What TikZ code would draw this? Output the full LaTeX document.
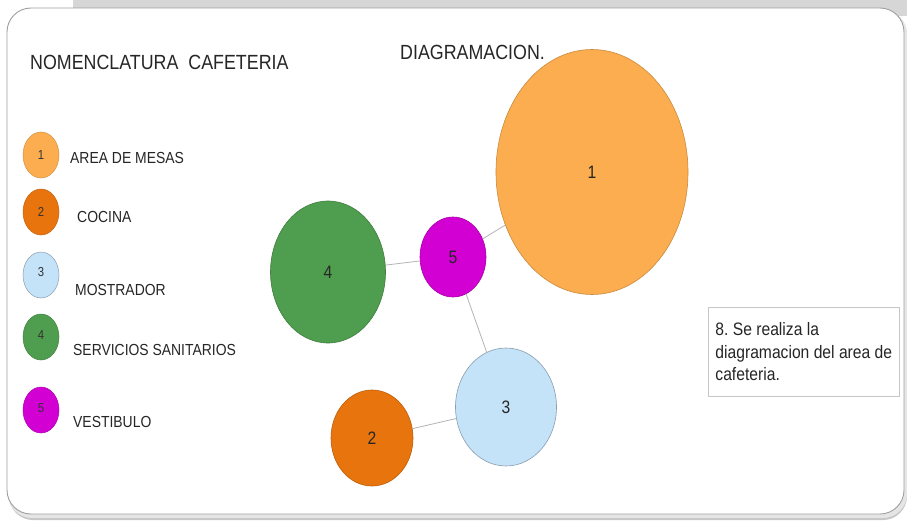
\documentclass[tikz,border=0pt]{standalone}
\usepackage{fontspec}
\setmainfont{Liberation Sans}[FakeStretch=0.87]
\usetikzlibrary{shapes.geometric}
\definecolor{cOne}{HTML}{FBAD4F}
\definecolor{cTwo}{HTML}{E8740E}
\definecolor{cThree}{HTML}{C4E2F8}
\definecolor{cFour}{HTML}{4F9D4F}
\definecolor{cFive}{HTML}{D200D2}
\definecolor{bandgray}{HTML}{D6D6D6}
\definecolor{linegray}{HTML}{B4B4B4}
\tikzset{
  room/.style={ellipse, inner sep=0pt, line width=0.6pt, font=\fontsize{18}{20}\selectfont, text=black!85},
  legdot/.style={ellipse, inner sep=0pt, minimum width=36pt, minimum height=46pt, line width=0.5pt, font=\fontsize{13}{14}\selectfont, text=black!80},
  leglabel/.style={anchor=west, inner sep=0pt, font=\fontsize{16}{19}\selectfont, text=black!85},
  link/.style={draw=linegray, line width=0.8pt},
  title/.style={anchor=west, inner sep=0pt, font=\fontsize{20.5}{24}\selectfont, text=black!85}
}
\frenchspacing
\begin{document}
\begin{tikzpicture}[x=1pt,y=-1pt]
\useasboundingbox (0,0) rectangle (907,522);
\fill[white] (0,0) rectangle (907,522);
% background band and panel
\fill[bandgray] (73,0) rectangle (907,16);
\fill[gray!45, rounded corners=24pt] (9,11) rectangle (907,520);
\fill[gray!20, rounded corners=24pt] (8,10) rectangle (907,518);
\filldraw[fill=white, draw=gray!75, line width=0.9pt, rounded corners=24pt] (7,8) rectangle (904,514);
% titles
\node[title] (t1) at (30,62) {NOMENCLATURA\ \ CAFETERIA};
\node[title] (t2) at (400,52) {DIAGRAMACION.};
% legend
\node[legdot, fill=cOne, draw=cOne!85!black] (l1) at (41,155) {1};
\node[legdot, fill=cTwo, draw=cTwo!85!black] (l2) at (41,212) {2};
\node[legdot, fill=cThree, draw=cThree!70!black] (l3) at (41,275) {\raisebox{6pt}{3}};
\node[legdot, fill=cFour, draw=cFour!85!black] (l4) at (41,337) {\raisebox{3pt}{4}};
\node[legdot, fill=cFive, draw=cFive!85!black] (l5) at (41,410) {\raisebox{3pt}{5}};
\node[leglabel] (n1) at (70,158) {AREA DE MESAS};
\node[leglabel] (n2) at (77,217) {COCINA};
\node[leglabel] (n3) at (75,290) {MOSTRADOR};
\node[leglabel] (n4) at (73,350) {SERVICIOS SANITARIOS};
\node[leglabel] (n5) at (73,422) {VESTIBULO};
% rooms
\node[room, fill=cOne, draw=cOne!80!black, minimum width=192pt, minimum height=245pt] (r1) at (592,172) {1};
\node[room, fill=cFour, draw=cFour!80!black, minimum width=115pt, minimum height=142pt] (r4) at (328,272) {4};
\node[room, fill=cFive, draw=cFive!80!black, minimum width=66pt, minimum height=80pt] (r5) at (453,257) {5};
\node[room, fill=cThree, draw=cThree!70!black, minimum width=101pt, minimum height=118pt] (r3) at (506,407) {3};
\node[room, fill=cTwo, draw=cTwo!80!black, minimum width=82pt, minimum height=96pt] (r2) at (372,438) {\raisebox{-4pt}{2}};
% links
\draw[link] (r4) -- (r5);
\draw[link] (r5) -- (r1);
\draw[link] (r5) -- (r3);
\draw[link] (r2) -- (r3);
% note
\node[draw=gray!45, line width=0.6pt, anchor=north west, minimum width=191pt, inner xsep=6pt, inner ysep=0pt, minimum height=89pt, align=left, font=\fontsize{18}{22.5}\selectfont, text=black!85] (note) at (708,307) {8. Se realiza la\\diagramacion del area de\\cafeteria.};
\end{tikzpicture}
\end{document}
